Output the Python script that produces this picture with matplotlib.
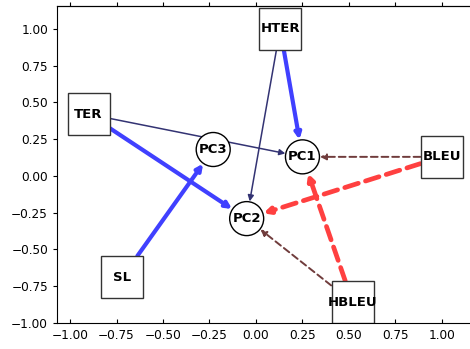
import matplotlib
matplotlib.use("Agg")
import matplotlib.pyplot as plt
from matplotlib.patches import Rectangle, Ellipse

# node positions
box_names = ["HTER", "TER", "SL", "HBLEU", "BLEU"]
box_x = [0.13, -0.9, -0.72, 0.52, 1.0]
box_y = [1.0, 0.42, -0.69, -0.86, 0.13]

pc_names = ["PC1", "PC2", "PC3"]
pc_x = [0.25, -0.05, -0.23]
pc_y = [0.13, -0.29, 0.18]

# edges: source, target, kind
edge_src = ["HTER", "HTER", "TER", "TER", "SL", "BLEU", "BLEU", "HBLEU", "HBLEU"]
edge_dst = ["PC1", "PC2", "PC1", "PC2", "PC3", "PC1", "PC2", "PC1", "PC2"]
edge_kind = ["pos_strong", "pos_weak", "pos_weak", "pos_strong", "pos_strong",
             "neg_weak", "neg_strong", "neg_strong", "neg_weak"]

styles = {
    "pos_strong": dict(color="#4040ff", lw=3.0, ls="-"),
    "pos_weak": dict(color="#333373", lw=1.1, ls="-"),
    "neg_strong": dict(color="#ff4040", lw=3.4, ls=(0, (3, 1.6))),
    "neg_weak": dict(color="#703c3c", lw=1.4, ls=(0, (3.5, 2))),
}

xlim = (-1.07, 1.151)
ylim = (-1.0, 1.156)

fig = plt.figure(figsize=(4.7, 3.49), dpi=100)
ax = fig.add_axes([57 / 470, 1 - 323 / 349, 1 - 57 / 470, (323 - 6) / 349])
ax.set_xlim(*xlim)
ax.set_ylim(*ylim)

# pixel -> data sizes so nodes stay square / round
px_x = (xlim[1] - xlim[0]) / 413.0
px_y = (ylim[1] - ylim[0]) / 317.0

patches = {}
for n, x, y in zip(box_names, box_x, box_y):
    w, h = 42 * px_x, 42 * px_y
    p = Rectangle((x - w / 2, y - h / 2), w, h, facecolor="white",
                  edgecolor="#333333", lw=1.0, zorder=3)
    ax.add_patch(p)
    patches[n] = p
    ax.text(x, y, n, ha="center", va="center", fontsize=9.5,
            fontweight="bold", zorder=4)

for n, x, y in zip(pc_names, pc_x, pc_y):
    p = Ellipse((x, y), 34 * px_x, 34 * px_y, facecolor="white",
                edgecolor="black", lw=1.0, zorder=3)
    ax.add_patch(p)
    patches[n] = p
    ax.text(x, y, n, ha="center", va="center", fontsize=9.5,
            fontweight="bold", zorder=4)

pos = {}
for n, x, y in zip(box_names + pc_names, box_x + pc_x, box_y + pc_y):
    pos[n] = (x, y)

for s, d, k in zip(edge_src, edge_dst, edge_kind):
    st = styles[k]
    ax.annotate("", xy=pos[d], xytext=pos[s],
                arrowprops=dict(arrowstyle="-|>,head_length=0.5,head_width=0.25",
                                mutation_scale=7, color=st["color"],
                                lw=st["lw"], linestyle=st["ls"],
                                patchA=patches[s], patchB=patches[d],
                                shrinkA=0, shrinkB=0),
                zorder=2)

ticks = [-1.0, -0.75, -0.5, -0.25, 0.0, 0.25, 0.5, 0.75, 1.0]
ax.set_xticks(ticks)
ax.set_yticks(ticks)
ax.spines["right"].set_visible(False)
ax.tick_params(axis="x", direction="in", length=3, labelsize=8.7, pad=4)
ax.tick_params(axis="y", direction="out", length=3, labelsize=8.7)

top = ax.secondary_xaxis("top")
top.set_xticks(ticks)
top.tick_params(direction="out", length=3, labeltop=False)

fig.savefig("out.png", dpi=100)
